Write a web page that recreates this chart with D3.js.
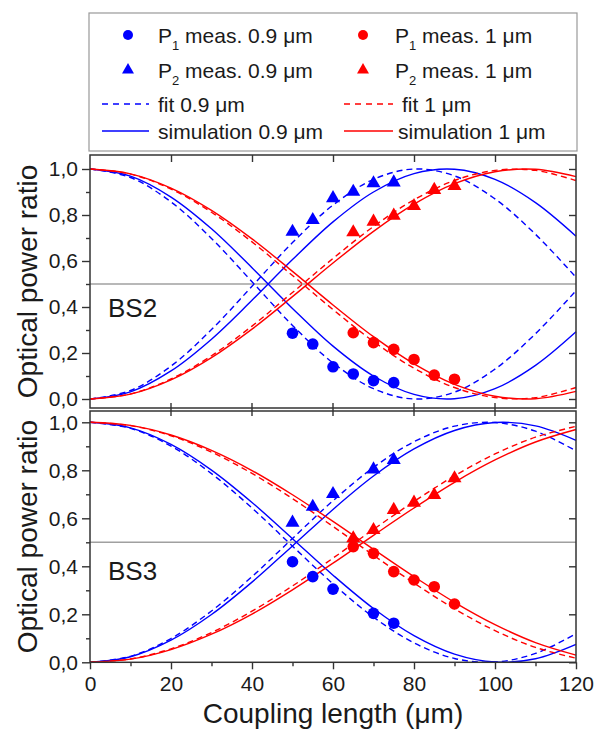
<!DOCTYPE html>
<html>
<head>
<meta charset="utf-8">
<script src="https://cdn.jsdelivr.net/npm/d3@7"></script>
<style>
  body { margin: 0; background: #fff; }
  svg { display: block; font-family: "Liberation Sans", Arial, sans-serif; }
</style>
</head>
<body>
<div class="chart"></div>
<script>
var width = 597;
var height = 731;

// coupling length grid for fit / simulation curves (um)
var lengthGrid = [0, 10, 20, 30, 40, 50, 60, 70, 80, 90, 100, 110, 120];

// BS2 curves
var bs2Fit09P1 = [1, 0.963, 0.857, 0.698, 0.510, 0.320, 0.157, 0.045, 0.000, 0.030, 0.130, 0.284, 0.471];
var bs2Fit09P2 = [0, 0.037, 0.143, 0.302, 0.490, 0.680, 0.843, 0.955, 1.000, 0.970, 0.870, 0.716, 0.529];
var bs2Sim09P1 = [1, 0.969, 0.878, 0.740, 0.571, 0.394, 0.230, 0.100, 0.020, 0.001, 0.045, 0.146, 0.292];
var bs2Sim09P2 = [0, 0.031, 0.122, 0.260, 0.429, 0.606, 0.770, 0.900, 0.980, 0.999, 0.955, 0.854, 0.708];
var bs2Fit1P1 = [1, 0.978, 0.913, 0.812, 0.683, 0.537, 0.389, 0.250, 0.134, 0.050, 0.006, 0.006, 0.050];
var bs2Fit1P2 = [0, 0.022, 0.087, 0.188, 0.317, 0.463, 0.611, 0.750, 0.866, 0.950, 0.994, 0.994, 0.950];
var bs2Sim1P1 = [1, 0.979, 0.917, 0.820, 0.696, 0.555, 0.409, 0.271, 0.153, 0.064, 0.012, 0.001, 0.033];
var bs2Sim1P2 = [0, 0.021, 0.083, 0.180, 0.304, 0.445, 0.591, 0.729, 0.847, 0.936, 0.988, 0.999, 0.967];

// BS3 curves
var bs3Fit09P1 = [1, 0.975, 0.901, 0.786, 0.643, 0.484, 0.327, 0.188, 0.081, 0.016, 0.001, 0.037, 0.119];
var bs3Fit09P2 = [0, 0.025, 0.099, 0.214, 0.357, 0.516, 0.673, 0.812, 0.919, 0.984, 0.999, 0.963, 0.881];
var bs3Sim09P1 = [1, 0.977, 0.908, 0.801, 0.666, 0.515, 0.363, 0.224, 0.111, 0.034, 0.001, 0.015, 0.075];
var bs3Sim09P2 = [0, 0.023, 0.092, 0.199, 0.334, 0.485, 0.637, 0.776, 0.889, 0.966, 0.999, 0.985, 0.925];
var bs3Fit1P1 = [1, 0.986, 0.944, 0.876, 0.787, 0.682, 0.566, 0.446, 0.330, 0.223, 0.132, 0.062, 0.017];
var bs3Fit1P2 = [0, 0.014, 0.056, 0.124, 0.213, 0.318, 0.434, 0.554, 0.670, 0.777, 0.868, 0.938, 0.983];
var bs3Sim1P1 = [1, 0.987, 0.947, 0.883, 0.799, 0.698, 0.587, 0.471, 0.357, 0.250, 0.157, 0.082, 0.030];
var bs3Sim1P2 = [0, 0.013, 0.053, 0.117, 0.201, 0.302, 0.413, 0.529, 0.643, 0.750, 0.843, 0.918, 0.970];

// measured points
var bs2Meas09L = [50, 55, 60, 65, 70, 75];
var bs2Meas09P1 = [0.286, 0.239, 0.140, 0.109, 0.080, 0.071];
var bs2Meas09P2 = [0.727, 0.778, 0.873, 0.901, 0.938, 0.942];
var bs2Meas1L = [65, 70, 75, 80, 85, 90];
var bs2Meas1P1 = [0.288, 0.245, 0.216, 0.172, 0.104, 0.086];
var bs2Meas1P2 = [0.725, 0.771, 0.797, 0.839, 0.909, 0.926];

var bs3Meas09L = [50, 55, 60, 70, 75];
var bs3Meas09P1 = [0.419, 0.357, 0.305, 0.204, 0.163];
var bs3Meas09P2 = [0.582, 0.648, 0.701, 0.804, 0.843];
var bs3Meas1L = [65, 70, 75, 80, 85, 90];
var bs3Meas1P1 = [0.482, 0.454, 0.378, 0.343, 0.315, 0.243];
var bs3Meas1P2 = [0.517, 0.551, 0.635, 0.665, 0.697, 0.767];

var xMajorTicks = [0, 20, 40, 60, 80, 100, 120];
var xMinorTicks = [10, 30, 50, 70, 90, 110];
var yMajorTicks = [0, 0.2, 0.4, 0.6, 0.8, 1.0];
var yMinorTicks = [0.1, 0.3, 0.5, 0.7, 0.9];

var blue = "#0000ff";
var red = "#ff0000";
var frameColor = "#333";
var textColor = "#1a1a1a";

var svg = d3.select(".chart")
    .append("svg")
    .attr("width", width)
    .attr("height", height);

var xScale = d3.scaleLinear()
    .domain([0, 120])
    .range([90, 576]);

var commaFormat = function(d) { return d3.format(".1f")(d).replace(".", ","); };

function zipPoints(xs, ys) {
    return xs.map(function(v, i) { return {x: v, y: ys[i]}; });
}

function drawPanel(p) {
    var yScale = d3.scaleLinear().domain([0, 1]).range(p.yRange);
    var g = svg.append("g");

    // 0.5 reference line
    g.append("line")
        .attr("x1", xScale(0)).attr("x2", xScale(120))
        .attr("y1", yScale(0.5)).attr("y2", yScale(0.5))
        .attr("stroke", "#a0a0a0")
        .attr("stroke-width", 1.5);

    var line = d3.line()
        .x(function(d) { return xScale(d.x); })
        .y(function(d) { return yScale(d.y); })
        .curve(d3.curveCatmullRom.alpha(0.5));

    p.curves.forEach(function(c) {
        g.append("path")
            .datum(zipPoints(lengthGrid, c.values))
            .attr("d", line)
            .attr("fill", "none")
            .attr("stroke", c.color)
            .attr("stroke-width", 1.4)
            .attr("stroke-dasharray", c.dashed ? "6,4" : null);
    });

    p.points.forEach(function(s) {
        var pts = zipPoints(s.lengths, s.values);
        if (s.shape === "circle") {
            g.selectAll(null)
                .data(pts)
                .enter()
                .append("circle")
                .attr("cx", function(d) { return xScale(d.x); })
                .attr("cy", function(d) { return yScale(d.y); })
                .attr("r", 5.8)
                .attr("fill", s.color);
        } else {
            g.selectAll(null)
                .data(pts)
                .enter()
                .append("path")
                .attr("d", d3.symbol().type(d3.symbolTriangle).size(85))
                .attr("transform", function(d) { return "translate(" + xScale(d.x) + "," + yScale(d.y) + ")"; })
                .attr("fill", s.color);
        }
    });

    // frame
    g.append("rect")
        .attr("x", xScale(0))
        .attr("y", p.frameTop)
        .attr("width", xScale(120) - xScale(0))
        .attr("height", p.frameBottom - p.frameTop)
        .attr("fill", "none")
        .attr("stroke", frameColor)
        .attr("stroke-width", 1.5);

    // left axis, major + minor
    var leftMajor = g.append("g")
        .attr("transform", "translate(" + xScale(0) + ",0)")
        .call(d3.axisLeft(yScale).tickValues(yMajorTicks).tickSize(8).tickPadding(4).tickFormat(commaFormat));
    var leftMinor = g.append("g")
        .attr("transform", "translate(" + xScale(0) + ",0)")
        .call(d3.axisLeft(yScale).tickValues(yMinorTicks).tickSize(4).tickFormat(""));
    var right = g.append("g")
        .attr("transform", "translate(" + xScale(120) + ",0)")
        .call(d3.axisRight(yScale).tickValues(yMajorTicks).tickSize(-7).tickFormat(""));

    [leftMajor, leftMinor, right].forEach(function(a) {
        a.select(".domain").remove();
        a.selectAll(".tick line").attr("stroke", frameColor).attr("stroke-width", 1.4);
    });
    leftMajor.selectAll(".tick text")
        .attr("fill", textColor)
        .style("font-size", "21px");

    // panel label
    g.append("text")
        .attr("x", 108)
        .attr("y", p.labelY)
        .attr("fill", textColor)
        .style("font-size", "26px")
        .text(p.label);

    // y title
    g.append("text")
        .attr("transform", "translate(37," + ((p.frameTop + p.frameBottom) / 2) + ") rotate(-90)")
        .attr("text-anchor", "middle")
        .attr("fill", textColor)
        .style("font-size", "28px")
        .text("Optical power ratio");

    return yScale;
}

drawPanel({
    yRange: [399, 169],
    frameTop: 155,
    frameBottom: 408,
    label: "BS2",
    labelY: 317,
    curves: [
        {values: bs2Fit09P1, color: blue, dashed: true},
        {values: bs2Fit09P2, color: blue, dashed: true},
        {values: bs2Sim09P1, color: blue, dashed: false},
        {values: bs2Sim09P2, color: blue, dashed: false},
        {values: bs2Fit1P1, color: red, dashed: true},
        {values: bs2Fit1P2, color: red, dashed: true},
        {values: bs2Sim1P1, color: red, dashed: false},
        {values: bs2Sim1P2, color: red, dashed: false}
    ],
    points: [
        {lengths: bs2Meas09L, values: bs2Meas09P1, color: blue, shape: "circle"},
        {lengths: bs2Meas09L, values: bs2Meas09P2, color: blue, shape: "triangle"},
        {lengths: bs2Meas1L, values: bs2Meas1P1, color: red, shape: "circle"},
        {lengths: bs2Meas1L, values: bs2Meas1P2, color: red, shape: "triangle"}
    ]
});

drawPanel({
    yRange: [662.3, 422.3],
    frameTop: 411,
    frameBottom: 662.3,
    label: "BS3",
    labelY: 580,
    curves: [
        {values: bs3Fit09P1, color: blue, dashed: true},
        {values: bs3Fit09P2, color: blue, dashed: true},
        {values: bs3Sim09P1, color: blue, dashed: false},
        {values: bs3Sim09P2, color: blue, dashed: false},
        {values: bs3Fit1P1, color: red, dashed: true},
        {values: bs3Fit1P2, color: red, dashed: true},
        {values: bs3Sim1P1, color: red, dashed: false},
        {values: bs3Sim1P2, color: red, dashed: false}
    ],
    points: [
        {lengths: bs3Meas09L, values: bs3Meas09P1, color: blue, shape: "circle"},
        {lengths: bs3Meas09L, values: bs3Meas09P2, color: blue, shape: "triangle"},
        {lengths: bs3Meas1L, values: bs3Meas1P1, color: red, shape: "circle"},
        {lengths: bs3Meas1L, values: bs3Meas1P2, color: red, shape: "triangle"}
    ]
});

// x ticks on top of the upper panel (inward)
var topAxis = svg.append("g")
    .attr("transform", "translate(0,155)")
    .call(d3.axisTop(xScale).tickValues([20, 40, 60, 80, 100]).tickSize(-7).tickFormat(""));
topAxis.select(".domain").remove();
topAxis.selectAll(".tick line").attr("stroke", frameColor).attr("stroke-width", 1.4);

// x ticks across the double line between panels
svg.append("g")
    .selectAll("line")
    .data([20, 40, 60, 80, 100])
    .enter()
    .append("line")
    .attr("x1", function(d) { return xScale(d); })
    .attr("x2", function(d) { return xScale(d); })
    .attr("y1", 403)
    .attr("y2", 416)
    .attr("stroke", frameColor)
    .attr("stroke-width", 1.4);

// bottom x axis
var bottomMajor = svg.append("g")
    .attr("transform", "translate(0,662.3)")
    .call(d3.axisBottom(xScale).tickValues(xMajorTicks).tickSize(7).tickPadding(7).tickFormat(d3.format("d")));
var bottomMinor = svg.append("g")
    .attr("transform", "translate(0,662.3)")
    .call(d3.axisBottom(xScale).tickValues(xMinorTicks).tickSize(4).tickFormat(""));
[bottomMajor, bottomMinor].forEach(function(a) {
    a.select(".domain").remove();
    a.selectAll(".tick line").attr("stroke", frameColor).attr("stroke-width", 1.4);
});
bottomMajor.selectAll(".tick text")
    .attr("fill", textColor)
    .style("font-size", "21px");

svg.append("text")
    .attr("x", xScale(60))
    .attr("y", 723)
    .attr("text-anchor", "middle")
    .attr("fill", textColor)
    .style("font-size", "28px")
    .text("Coupling length (\u03bcm)");

// legend
var legend = svg.append("g");
legend.append("rect")
    .attr("x", 89)
    .attr("y", 13)
    .attr("width", 488)
    .attr("height", 138)
    .attr("fill", "#fff")
    .attr("stroke", "#999")
    .attr("stroke-width", 1.2);

var legendItems = [
    {kind: "circle", color: blue, sx: 128, tx: 158, y: 35, sub: "1", text: " meas. 0.9 \u03bcm"},
    {kind: "circle", color: red, sx: 363, tx: 395, y: 35, sub: "1", text: " meas. 1 \u03bcm"},
    {kind: "triangle", color: blue, sx: 128, tx: 158, y: 70, sub: "2", text: " meas. 0.9 \u03bcm"},
    {kind: "triangle", color: red, sx: 363, tx: 395, y: 70, sub: "2", text: " meas. 1 \u03bcm"},
    {kind: "dash", color: blue, sx: 102, ex: 149, tx: 158, y: 104, text: "fit 0.9 \u03bcm"},
    {kind: "dash", color: red, sx: 344, ex: 393, tx: 402, y: 104, text: "fit 1 \u03bcm"},
    {kind: "solid", color: blue, sx: 102, ex: 149, tx: 158, y: 131, text: "simulation 0.9 \u03bcm"},
    {kind: "solid", color: red, sx: 344, ex: 393, tx: 398, y: 131, text: "simulation 1 \u03bcm"}
];

legendItems.forEach(function(it) {
    if (it.kind === "circle") {
        legend.append("circle")
            .attr("cx", it.sx).attr("cy", it.y).attr("r", 5)
            .attr("fill", it.color);
    } else if (it.kind === "triangle") {
        legend.append("path")
            .attr("d", d3.symbol().type(d3.symbolTriangle).size(62))
            .attr("transform", "translate(" + it.sx + "," + it.y + ")")
            .attr("fill", it.color);
    } else {
        legend.append("line")
            .attr("x1", it.sx).attr("x2", it.ex)
            .attr("y1", it.y).attr("y2", it.y)
            .attr("stroke", it.color)
            .attr("stroke-width", 1.4)
            .attr("stroke-dasharray", it.kind === "dash" ? "6,5" : null);
    }
    var t = legend.append("text")
        .attr("x", it.tx)
        .attr("y", it.y + 7.5)
        .attr("fill", textColor)
        .style("font-size", "21px");
    if (it.sub) {
        t.append("tspan").text("P");
        t.append("tspan").attr("dy", 7).style("font-size", "13px").text(it.sub);
        t.append("tspan").attr("dy", -7).text(it.text);
    } else {
        t.text(it.text);
    }
});
</script>
</body>
</html>
